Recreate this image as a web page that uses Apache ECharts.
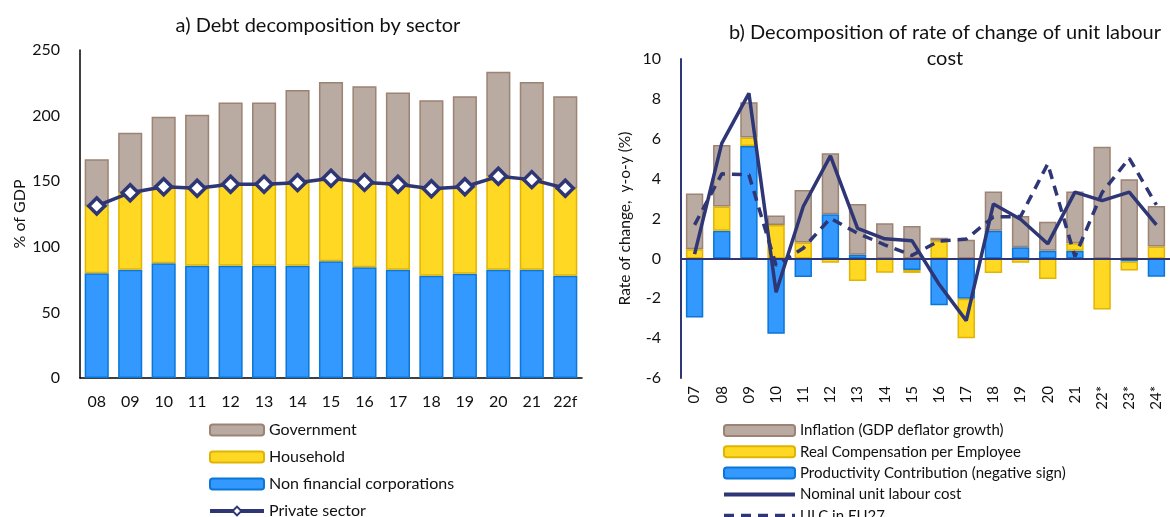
<!DOCTYPE html>
<html>
<head>
<meta charset="utf-8">
<script src="https://cdn.jsdelivr.net/npm/echarts@6/dist/echarts.min.js"></script>
<style>
  html, body { margin: 0; padding: 0; background: #ffffff; }
  #chart { width: 1170px; height: 517px; }
</style>
</head>
<body>
<div id="chart"></div>
<script>
// ---- a) Debt decomposition by sector (% of GDP) ----
const debtYears = ['08', '09', '10', '11', '12', '13', '14', '15', '16', '17', '18', '19', '20', '21', '22f'];
const nonFinancialCorp = [79.8, 82.6, 87.4, 85.6, 85.6, 85.6, 85.6, 88.9, 84.4, 82.6, 78.0, 79.5, 82.6, 82.6, 78.0];
const household = [51.3, 58.6, 58.4, 59.0, 62.0, 62.0, 63.3, 63.3, 64.7, 65.0, 66.3, 66.3, 71.1, 68.6, 66.6];
const government = [35.6, 45.8, 53.4, 56.1, 62.3, 62.3, 70.6, 73.4, 73.2, 70.1, 67.4, 68.9, 79.8, 74.4, 70.1];
const privateSector = [131.1, 141.2, 145.8, 144.6, 147.6, 147.6, 148.9, 152.2, 149.1, 147.6, 144.3, 145.8, 153.7, 151.2, 144.6];
const debtTicks = [0, 50, 100, 150, 200, 250];

// ---- b) Decomposition of rate of change of unit labour cost (y-o-y %) ----
const ulcYears = ['07', '08', '09', '10', '11', '12', '13', '14', '15', '16', '17', '18', '19', '20', '21', '22*', '23*', '24*'];
const inflation = [2.79, 3.09, 1.77, 0.47, 2.64, 3.06, 2.55, 1.76, 1.63, 0.16, 0.93, 1.97, 1.57, 1.46, 2.59, 5.6, 3.97, 2.04];
const realCompensation = [0.46, 1.22, 0.42, 1.68, 0.79, -0.22, -1.14, -0.72, -0.15, 0.88, -1.97, -0.73, -0.22, -1.04, 0.38, -2.57, -0.45, 0.59];
const productivity = [-2.97, 1.38, 5.64, -3.78, -0.94, 2.21, 0.18, 0, -0.58, -2.35, -2.03, 1.38, 0.56, 0.38, 0.38, 0, -0.16, -0.92];
const nominalULC = [0.21, 5.77, 8.28, -1.7, 2.6, 5.14, 1.51, 0.98, 0.89, -1.3, -3.12, 2.73, 1.96, 0.73, 3.32, 2.9, 3.32, 1.68];
const ulcEU27 = [1.68, 4.24, 4.19, -0.35, 0.51, 2.01, 1.26, 0.68, 0.15, 0.87, 0.97, 2.08, 2.1, 4.74, 0.09, 3.3, 5.02, 2.68];
const ulcTicks = [-6, -4, -2, 0, 2, 4, 6, 8, 10];

const FONT = 'Lato, "Open Sans", sans-serif';
const NAVY = '#2e3675';
const BROWN = { color: '#b9aaa2', borderColor: '#9c8374', borderWidth: 1.5 };
const YELLOW = { color: '#ffd824', borderColor: '#e0b400', borderWidth: 1.5 };
const BLUE = { color: '#3399ff', borderColor: '#0b76d6', borderWidth: 1.5 };
// plain line keys in the legend (no point marker)
const HIDDEN_MARK = { opacity: 0 };

const chart = echarts.init(document.getElementById('chart'), null, { renderer: 'canvas' });

const option = {
  animation: false,
  backgroundColor: '#ffffff',
  textStyle: { fontFamily: FONT, color: '#111' },
  title: [
    {
      text: 'a) Debt decomposition by sector',
      left: 313, top: 11, textAlign: 'center',
      textStyle: { fontFamily: FONT, fontSize: 20, fontWeight: 'normal', color: '#111' }
    },
    {
      text: 'b) Decomposition of rate of change of unit labour\ncost',
      left: 940, top: 15, textAlign: 'center',
      textStyle: { fontFamily: FONT, fontSize: 20, fontWeight: 'normal', color: '#111', lineHeight: 26 }
    }
  ],
  legend: [
    {
      orient: 'vertical', left: 203, top: 417, height: 200,
      itemWidth: 54, itemHeight: 11, itemGap: 11,
      lineStyle: { width: 4 },
      textStyle: { fontFamily: FONT, fontSize: 16, color: '#111', lineHeight: 16 },
      data: ['Government', 'Household', 'Non financial corporations', 'Private sector']
    },
    {
      orient: 'vertical', left: 717, top: 418, height: 200,
      itemWidth: 71, itemHeight: 11, itemGap: 6.3,
      lineStyle: { width: 4 },
      textStyle: { fontFamily: FONT, fontSize: 15, color: '#111', lineHeight: 15 },
      data: [
        'Inflation (GDP deflator growth)',
        'Real Compensation per Employee',
        'Productivity Contribution (negative sign)',
        { name: 'Nominal unit labour cost', itemStyle: HIDDEN_MARK },
        { name: 'ULC in EU27', itemStyle: HIDDEN_MARK }
      ]
    }
  ],
  grid: [
    { left: 80, top: 50, width: 502, height: 328 },
    { left: 681, top: 59, width: 491, height: 319 }
  ],
  xAxis: [
    {
      type: 'category', gridIndex: 0, data: debtYears,
      axisLine: { lineStyle: { color: '#000', width: 1.5 } },
      axisTick: { show: false },
      axisLabel: { fontFamily: FONT, fontSize: 16, color: '#111', margin: 16 }
    },
    {
      type: 'category', gridIndex: 1, data: ulcYears, position: 'bottom',
      axisLine: { show: false, onZero: false },
      axisTick: { show: false },
      axisLabel: { fontFamily: FONT, fontSize: 15, color: '#111', rotate: 90, margin: 8 }
    }
  ],
  yAxis: [
    {
      type: 'value', gridIndex: 0, min: debtTicks[0], max: debtTicks[debtTicks.length - 1], interval: 50,
      name: '% of GDP', nameLocation: 'middle', nameGap: 52,
      nameTextStyle: { fontFamily: FONT, fontSize: 16, color: '#111' },
      axisLine: { show: true, lineStyle: { color: '#000', width: 1.5 } },
      axisTick: { show: false },
      splitLine: { show: false },
      axisLabel: { fontFamily: FONT, fontSize: 16, color: '#111', margin: 20 }
    },
    {
      type: 'value', gridIndex: 1, min: ulcTicks[0], max: ulcTicks[ulcTicks.length - 1], interval: 2,
      name: 'Rate of change,  y-o-y (%)', nameLocation: 'middle', nameGap: 48,
      nameTextStyle: { fontFamily: FONT, fontSize: 15.5, color: '#111' },
      axisLine: { show: true, lineStyle: { color: NAVY, width: 2 } },
      axisTick: { show: false },
      splitLine: { show: false },
      axisLabel: { fontFamily: FONT, fontSize: 16, color: '#111', margin: 20 }
    }
  ],
  series: [
    // stacked sector debt
    {
      name: 'Non financial corporations', type: 'bar', stack: 'debt',
      xAxisIndex: 0, yAxisIndex: 0, barCategoryGap: '28%',
      itemStyle: BLUE, data: nonFinancialCorp
    },
    {
      name: 'Household', type: 'bar', stack: 'debt',
      xAxisIndex: 0, yAxisIndex: 0, barCategoryGap: '28%',
      itemStyle: YELLOW, data: household
    },
    {
      name: 'Government', type: 'bar', stack: 'debt',
      xAxisIndex: 0, yAxisIndex: 0, barCategoryGap: '28%',
      itemStyle: BROWN, data: government
    },
    {
      name: 'Private sector', type: 'line',
      xAxisIndex: 0, yAxisIndex: 0, z: 5,
      symbol: 'diamond', symbolSize: 16,
      lineStyle: { color: NAVY, width: 3.5 },
      itemStyle: { color: '#ffffff', borderColor: NAVY, borderWidth: 3.5 },
      data: privateSector
    },
    // stacked ULC components (positive and negative parts stack separately)
    {
      name: 'Productivity Contribution (negative sign)', type: 'bar', stack: 'ulc',
      xAxisIndex: 1, yAxisIndex: 1, barCategoryGap: '36%',
      itemStyle: BLUE, data: productivity,
      markLine: {
        silent: true, symbol: 'none', label: { show: false },
        lineStyle: { color: NAVY, width: 2, type: 'solid' },
        data: [{ yAxis: 0 }]
      }
    },
    {
      name: 'Real Compensation per Employee', type: 'bar', stack: 'ulc',
      xAxisIndex: 1, yAxisIndex: 1, barCategoryGap: '36%',
      itemStyle: YELLOW, data: realCompensation
    },
    {
      name: 'Inflation (GDP deflator growth)', type: 'bar', stack: 'ulc',
      xAxisIndex: 1, yAxisIndex: 1, barCategoryGap: '36%',
      itemStyle: BROWN, data: inflation
    },
    {
      name: 'Nominal unit labour cost', type: 'line',
      xAxisIndex: 1, yAxisIndex: 1, z: 5,
      symbol: 'none', lineStyle: { color: NAVY, width: 3.5 },
      itemStyle: { color: NAVY },
      data: nominalULC
    },
    {
      name: 'ULC in EU27', type: 'line',
      xAxisIndex: 1, yAxisIndex: 1, z: 5,
      symbol: 'none', lineStyle: { color: NAVY, width: 3.5, type: [10, 7] },
      itemStyle: { color: NAVY },
      data: ulcEU27
    }
  ]
};

chart.setOption(option);
</script>
</body>
</html>
